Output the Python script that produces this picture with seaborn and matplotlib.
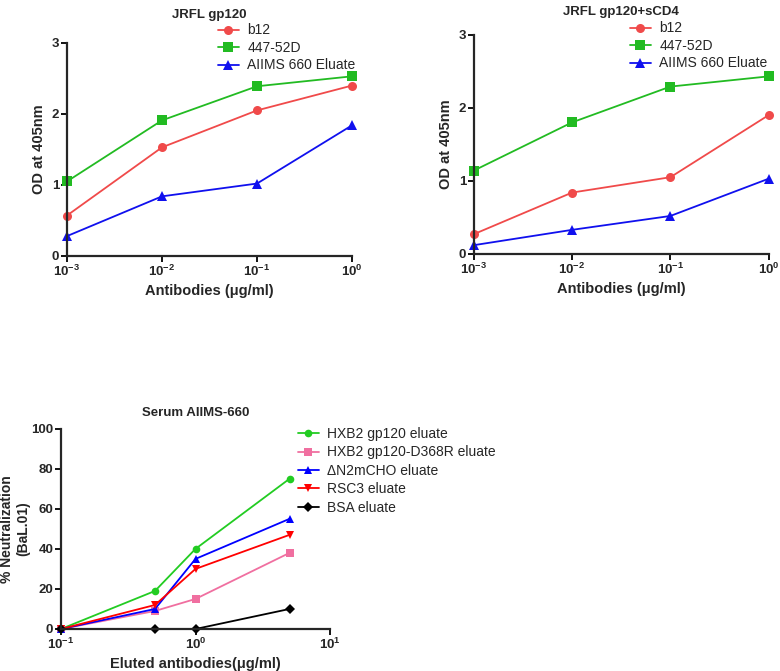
import numpy as np
import pandas as pd
import matplotlib
matplotlib.use("Agg")
from matplotlib import pyplot as plt
from matplotlib.ticker import FixedLocator, NullLocator
import seaborn as sns

# --- dane ---
conc_elisa = [0.001, 0.01, 0.1, 1.0]
elisa_series = ["b12", "447-52D", "AIIMS 660 Eluate"]

jrfl_b12 = [0.57, 1.53, 2.05, 2.40]
jrfl_447 = [1.05, 1.91, 2.39, 2.53]
jrfl_aiims = [0.28, 0.84, 1.02, 1.84]

cd4_b12 = [0.27, 0.84, 1.05, 1.90]
cd4_447 = [1.14, 1.80, 2.29, 2.43]
cd4_aiims = [0.12, 0.33, 0.52, 1.03]

conc_neut = [0.1, 0.5, 1.0, 5.0]
neut_series = ["HXB2 gp120 eluate", "HXB2 gp120-D368R eluate",
               "\u0394N2mCHO eluate", "RSC3 eluate", "BSA eluate"]
neut_hxb2 = [0, 19, 40, 75]
neut_d368r = [0, 9, 15, 38]
neut_n2m = [0, 10, 35, 55]
neut_rsc3 = [0, 12, 30, 47]
neut_bsa = [0, 0, 0, 10]

elisa_colors = {"b12": "#f04a4a", "447-52D": "#22bb22", "AIIMS 660 Eluate": "#1010ee"}
elisa_markers = {"b12": "o", "447-52D": "s", "AIIMS 660 Eluate": "^"}
neut_colors = dict(zip(neut_series, ["#22cc22", "#f06fa0", "#0000ff", "#ff0000", "#000000"]))
neut_markers = dict(zip(neut_series, ["o", "s", "^", "v", "D"]))


def long_df(x, names, values):
    rows = []
    for name, vals in zip(names, values):
        for xi, yi in zip(x, vals):
            rows.append({"x": xi, "y": yi, "series": name})
    return pd.DataFrame(rows)


sns.set_style("ticks")
plt.rcParams["font.family"] = ["Liberation Sans", "DejaVu Sans"]
plt.rcParams["mathtext.fontset"] = "custom"
plt.rcParams["mathtext.rm"] = "Liberation Sans:bold"
plt.rcParams["mathtext.bf"] = "Liberation Sans:bold"

fig = plt.figure(figsize=(7.8, 6.71), dpi=100)


def draw_panel(rect, df, palette, markers, title, xlabel, ylabel, xlim, ylim, yticks,
               xticks, msize, legend_pos, title_pad, ylab_size=10.5, ylab_pad=4,
               lab_spacing=0.25):
    ax = fig.add_axes(rect)
    sns.lineplot(data=df, x="x", y="y", hue="series", style="series",
                 palette=palette, markers=markers, dashes=False, ax=ax,
                 markersize=msize, markeredgewidth=0, linewidth=1.3)
    for line in ax.get_lines():
        line.set_clip_on(False)
    ax.set_xscale("log")
    ax.set_xlim(*xlim)
    ax.set_ylim(*ylim)
    ax.xaxis.set_major_locator(FixedLocator(xticks))
    ax.xaxis.set_minor_locator(NullLocator())
    ax.set_xticklabels([r"$\mathbf{10^{%d}}$" % int(np.log10(t)) for t in xticks])
    ax.set_yticks(yticks)
    ax.set_yticklabels([str(t) for t in yticks])
    for lab in ax.get_yticklabels():
        lab.set_fontweight("bold")
    ax.tick_params(axis="both", labelsize=9.5, length=4, width=1.3, pad=1.5, color="black")
    for s in ["left", "bottom"]:
        ax.spines[s].set_linewidth(1.6)
    sns.despine(ax=ax)
    ax.set_title(title, fontsize=9.5, fontweight="bold", pad=title_pad)
    ax.set_xlabel(xlabel, fontsize=10.5, fontweight="bold", labelpad=4)
    ax.set_ylabel(ylabel, fontsize=ylab_size, fontweight="bold", labelpad=ylab_pad)
    h, l = ax.get_legend_handles_labels()
    ax.legend(h, l, loc="upper left", bbox_to_anchor=legend_pos,
              bbox_transform=fig.transFigure, frameon=False, fontsize=10,
              handlelength=1.5, handletextpad=0.6, labelspacing=lab_spacing,
              borderpad=0, borderaxespad=0)
    return ax


df1 = long_df(conc_elisa, elisa_series, [jrfl_b12, jrfl_447, jrfl_aiims])
df2 = long_df(conc_elisa, elisa_series, [cd4_b12, cd4_447, cd4_aiims])
df3 = long_df(conc_neut, neut_series, [neut_hxb2, neut_d368r, neut_n2m, neut_rsc3, neut_bsa])

ax1 = draw_panel([0.0859, 0.6185, 0.3654, 0.3175], df1, elisa_colors, elisa_markers,
                 "JRFL gp120", "Antibodies (\u03bcg/ml)", "OD at 405nm",
                 (0.001, 1.0), (0, 3), [0, 1, 2, 3], conc_elisa, 6.5, (0.2795, 0.965), 18)
ax2 = draw_panel([0.6073, 0.6215, 0.3782, 0.3268], df2, elisa_colors, elisa_markers,
                 "JRFL gp120+sCD4", "Antibodies (\u03bcg/ml)", "OD at 405nm",
                 (0.001, 1.0), (0, 3), [0, 1, 2, 3], conc_elisa, 6.5, (0.8077, 0.968), 14)
ax3 = draw_panel([0.0782, 0.0626, 0.3449, 0.2985], df3, neut_colors, neut_markers,
                 "Serum AIIMS-660", "Eluted antibodies(\u03bcg/ml)", "% Neutralization\n(BaL.01)",
                 (0.1, 10.0), (0, 100), [0, 20, 40, 60, 80, 100], [0.1, 1.0, 10.0], 5.5,
                 (0.382, 0.3636), 9, ylab_size=10, ylab_pad=1, lab_spacing=0.32)

fig.savefig("out.png", dpi=100)
